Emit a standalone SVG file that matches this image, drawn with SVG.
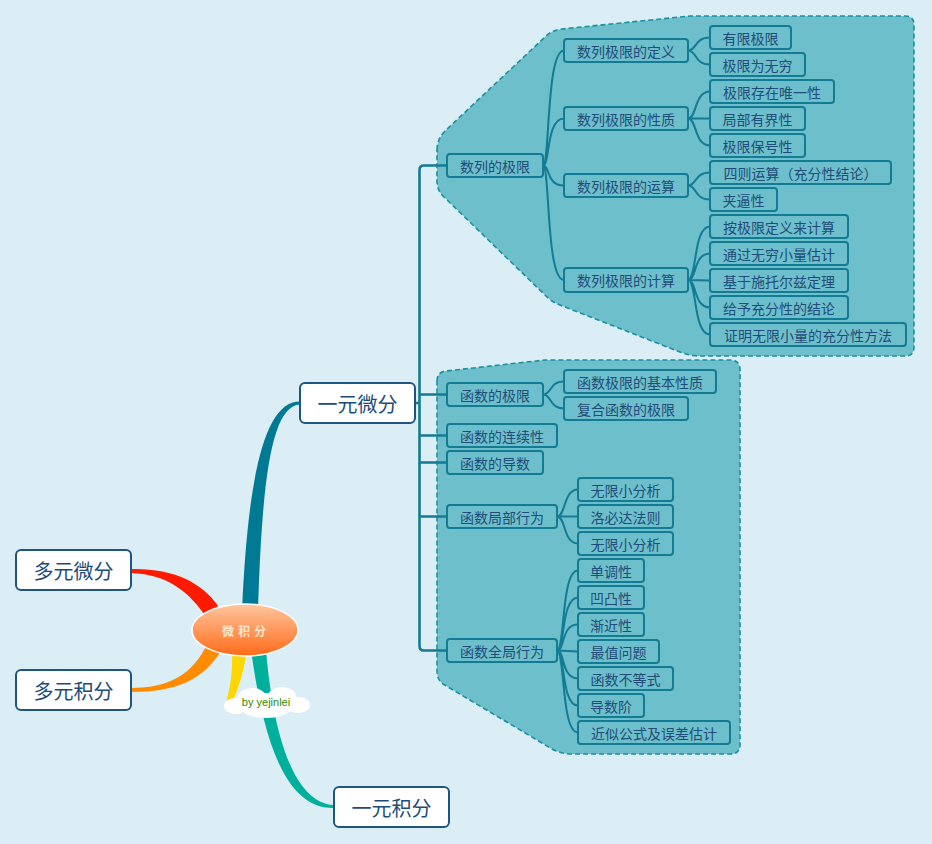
<svg xmlns="http://www.w3.org/2000/svg" width="932" height="844" viewBox="0 0 932 844">
<defs>
<linearGradient id="cg" x1="0" y1="0" x2="0" y2="1">
<stop offset="0" stop-color="#ffc6a0"/>
<stop offset="1" stop-color="#ff6a18"/>
</linearGradient>
<style>
.bnd{fill:#6dbfcb;stroke:#1a90a3;stroke-width:1.6;stroke-dasharray:5,3}
.top rect{fill:#ffffff;stroke:#1f5580;stroke-width:2}
.top text{font-family:"Noto Sans CJK SC","Liberation Sans",sans-serif;font-size:20px;fill:#1e4c78;text-anchor:middle;dominant-baseline:central}
.n rect{fill:#6dbfcb;stroke:#137b93;stroke-width:2}
.n text{font-family:"Noto Sans CJK SC","Liberation Sans",sans-serif;font-size:14px;fill:#1f4c78;text-anchor:middle;dominant-baseline:central}
.c{fill:none;stroke:#137b93;stroke-width:2}
.tr{fill:none;stroke:#137b93;stroke-width:2.6}
</style>
</defs>
<rect width="932" height="844" fill="#dbeef5"/>
<!-- boundaries -->
<path class="bnd" d="M437,150 Q437,139 445,131 L545,37 Q552,30 562,29 L690,16 L905,16 Q914,16 914,25 L914,347 Q914,356 905,356 L700,356 Q690,356 680,352 L560,305 Q552,302 546,296 L443,196 Q437,190 437,181 Z"/>
<path class="bnd" d="M437,381 Q437,372 446,371 L545,360 L730,360 Q740,360 740,370 L740,745 Q740,754 730,754 L572,754 Q561,754 552,749 L443,684 Q437,680 437,670 Z"/>
<!-- connectors -->
<g id="connectors">
<path fill="#007a94" d="M300,401.5 C266,401 248,470 242,612 L258,612 C262,475 272,406 300,404.5 Z"/>
<path fill="#ff1a00" d="M131,569 C172,568 202,582 218,606 L206,617 C190,593 168,574 131,573 Z"/>
<path fill="#ff8c00" d="M131,688 C170,688 194,673 207,644 L221,651 C203,680 176,692 131,692 Z"/>
<path fill="#ffd700" d="M232,650 L247,650 C243,675 238,690 231,705 L226,703 C230,688 233,672 232,650 Z"/>
<path fill="#00b09d" d="M251,650 L266,650 C272,722 290,803 334,805 L334,808 C281,809 262,728 251,650 Z"/>
<path class="tr" d="M447,165.5 L424,165.5 Q419.5,165.5 419.5,170 L419.5,646 Q419.5,650.5 424,650.5 L447,650.5"/>
<path class="tr" d="M415,403 L419.5,403 M419.5,394.5 L447,394.5 M419.5,435.5 L447,435.5 M419.5,462.5 L447,462.5 M419.5,516.5 L447,516.5"/>
<path class="c" d="M543,165.5 C550,165.5 546,50.5 564,50.5 M543,165.5 C550,165.5 546,118.5 564,118.5 M543,165.5 C550,165.5 546,185.5 564,185.5 M543,165.5 C550,165.5 546,280 564,280"/>
<path class="c" d="M688,50.5 C697,50.5 694,37.5 710,37.5 M688,50.5 C697,50.5 694,64.5 710,64.5"/>
<path class="c" d="M688,118.5 C697,118.5 694,91.5 710,91.5 M688,118.5 L710,118.5 M688,118.5 C697,118.5 694,145.5 710,145.5"/>
<path class="c" d="M688,185.5 C697,185.5 694,172.5 710,172.5 M688,185.5 C697,185.5 694,199.5 710,199.5"/>
<path class="c" d="M688,280 C697,280 693,226.5 710,226.5 M688,280 C697,280 693,253.5 710,253.5 M688,280 L710,280.5 M688,280 C697,280 693,307.5 710,307.5 M688,280 C697,280 693,334.5 710,334.5"/>
<path class="c" d="M543,394.5 C552,394.5 549,381.5 564,381.5 M543,394.5 C552,394.5 549,408.5 564,408.5"/>
<path class="c" d="M557,516.5 C566,516.5 563,489.5 578,489.5 M557,516.5 L578,516.5 M557,516.5 C566,516.5 563,543.5 578,543.5"/>
<path class="c" d="M557,650.5 C565,650.5 561,570.5 578,570.5 M557,650.5 C565,650.5 561,597.5 578,597.5 M557,650.5 C565,650.5 561,624.5 578,624.5 M557,650.5 L578,651.5 M557,650.5 C565,650.5 561,678.5 578,678.5 M557,650.5 C565,650.5 561,705.5 578,705.5 M557,650.5 C565,650.5 561,732.5 578,732.5"/>
</g>
<!-- central -->
<g id="center">
<ellipse cx="245" cy="630" rx="53" ry="26" fill="url(#cg)" stroke="#ffffff" stroke-width="1.5"/>
<text x="246" y="630" font-family="'Noto Sans CJK SC',sans-serif" font-size="12" font-weight="bold" fill="#fbe8cc" text-anchor="middle" dominant-baseline="central" letter-spacing="4">微积分</text>
</g>
<g id="cloud">
<g fill="#ffffff">
<ellipse cx="267" cy="704" rx="34" ry="11"/>
<ellipse cx="236" cy="706" rx="12" ry="8"/>
<ellipse cx="298" cy="705" rx="12" ry="8"/>
<ellipse cx="252" cy="697" rx="14" ry="9"/>
<ellipse cx="282" cy="696" rx="14" ry="9"/>
<ellipse cx="266" cy="711" rx="22" ry="7"/>
</g>
<text x="266" y="702" font-family="'Liberation Sans',sans-serif" font-size="11" fill="#2e8a00" text-anchor="middle" dominant-baseline="central">by yejinlei</text>
</g>
<!-- top nodes -->
<g id="n-duoyuanweifen" class="top"><rect x="16" y="550" width="115" height="40" rx="5"/><text x="73.5" y="570">多元微分</text></g>
<g id="n-duoyuanjifen" class="top"><rect x="16" y="670" width="115" height="40" rx="5"/><text x="73.5" y="690">多元积分</text></g>
<g id="n-yiyuanweifen" class="top"><rect x="300" y="383" width="115" height="40" rx="5"/><text x="357.5" y="403">一元微分</text></g>
<g id="n-yiyuanjifen" class="top"><rect x="334" y="787" width="115" height="40" rx="5"/><text x="391.5" y="807">一元积分</text></g>
<!-- level 1 -->
<g id="n-shulie" class="n"><rect x="447" y="154" width="96" height="23" rx="3"/><text x="495" y="165.5">数列的极限</text></g>
<g id="n-hanshujixian" class="n"><rect x="447" y="383" width="96" height="23" rx="3"/><text x="495" y="394.5">函数的极限</text></g>
<g id="n-lianxu" class="n"><rect x="447" y="424" width="110" height="23" rx="3"/><text x="502" y="435.5">函数的连续性</text></g>
<g id="n-daoshu" class="n"><rect x="447" y="451" width="96" height="23" rx="3"/><text x="495" y="462.5">函数的导数</text></g>
<g id="n-jubu" class="n"><rect x="447" y="505" width="110" height="23" rx="3"/><text x="502" y="516.5">函数局部行为</text></g>
<g id="n-quanju" class="n"><rect x="447" y="639" width="110" height="23" rx="3"/><text x="502" y="650.5">函数全局行为</text></g>
<!-- level 2 -->
<g id="n-dingyi" class="n"><rect x="564" y="39" width="124" height="23" rx="3"/><text x="626" y="50.5">数列极限的定义</text></g>
<g id="n-xingzhi" class="n"><rect x="564" y="107" width="124" height="23" rx="3"/><text x="626" y="118.5">数列极限的性质</text></g>
<g id="n-yunsuan" class="n"><rect x="564" y="174" width="124" height="23" rx="3"/><text x="626" y="185.5">数列极限的运算</text></g>
<g id="n-jisuan" class="n"><rect x="564" y="268" width="124" height="24" rx="3"/><text x="626" y="280">数列极限的计算</text></g>
<g id="n-jibenxingzhi" class="n"><rect x="564" y="370" width="152" height="23" rx="3"/><text x="640" y="381.5">函数极限的基本性质</text></g>
<g id="n-fuhe" class="n"><rect x="564" y="397" width="124" height="23" rx="3"/><text x="626" y="408.5">复合函数的极限</text></g>
<g id="n-wuxian1" class="n"><rect x="578" y="478" width="95" height="23" rx="3"/><text x="625.5" y="489.5">无限小分析</text></g>
<g id="n-luobida" class="n"><rect x="578" y="505" width="95" height="23" rx="3"/><text x="625.5" y="516.5">洛必达法则</text></g>
<g id="n-wuxian2" class="n"><rect x="578" y="532" width="95" height="23" rx="3"/><text x="625.5" y="543.5">无限小分析</text></g>
<g id="n-dandiao" class="n"><rect x="578" y="559" width="66" height="23" rx="3"/><text x="611" y="570.5">单调性</text></g>
<g id="n-aotu" class="n"><rect x="578" y="586" width="66" height="23" rx="3"/><text x="611" y="597.5">凹凸性</text></g>
<g id="n-jianjin" class="n"><rect x="578" y="613" width="66" height="23" rx="3"/><text x="611" y="624.5">渐近性</text></g>
<g id="n-zuizhi" class="n"><rect x="578" y="640" width="81" height="23" rx="3"/><text x="618.5" y="651.5">最值问题</text></g>
<g id="n-budengshi" class="n"><rect x="578" y="667" width="95" height="23" rx="3"/><text x="625.5" y="678.5">函数不等式</text></g>
<g id="n-daoshujie" class="n"><rect x="578" y="694" width="66" height="23" rx="3"/><text x="611" y="705.5">导数阶</text></g>
<g id="n-jinsi" class="n"><rect x="578" y="721" width="152" height="23" rx="3"/><text x="654" y="732.5">近似公式及误差估计</text></g>
<!-- level 3 -->
<g id="n-youxian" class="n"><rect x="710" y="26" width="81" height="23" rx="3"/><text x="750.5" y="37.5">有限极限</text></g>
<g id="n-wuqiong" class="n"><rect x="710" y="53" width="95" height="23" rx="3"/><text x="757.5" y="64.5">极限为无穷</text></g>
<g id="n-weiyi" class="n"><rect x="710" y="80" width="124" height="23" rx="3"/><text x="772" y="91.5">极限存在唯一性</text></g>
<g id="n-youjie" class="n"><rect x="710" y="107" width="95" height="23" rx="3"/><text x="757.5" y="118.5">局部有界性</text></g>
<g id="n-baohao" class="n"><rect x="710" y="134" width="95" height="23" rx="3"/><text x="757.5" y="145.5">极限保号性</text></g>
<g id="n-size" class="n"><rect x="710" y="161" width="181" height="23" rx="3"/><text x="800.5" y="172.5">四则运算（充分性结论）</text></g>
<g id="n-jiabi" class="n"><rect x="710" y="188" width="67" height="23" rx="3"/><text x="743.5" y="199.5">夹逼性</text></g>
<g id="n-andingyi" class="n"><rect x="710" y="215" width="138" height="23" rx="3"/><text x="779" y="226.5">按极限定义来计算</text></g>
<g id="n-wuqiongxiao" class="n"><rect x="710" y="242" width="138" height="23" rx="3"/><text x="779" y="253.5">通过无穷小量估计</text></g>
<g id="n-stolz" class="n"><rect x="710" y="269" width="138" height="23" rx="3"/><text x="779" y="280.5">基于施托尔兹定理</text></g>
<g id="n-jielun" class="n"><rect x="710" y="296" width="138" height="23" rx="3"/><text x="779" y="307.5">给予充分性的结论</text></g>
<g id="n-zhengming" class="n"><rect x="710" y="323" width="196" height="23" rx="3"/><text x="808" y="334.5">证明无限小量的充分性方法</text></g>
</svg>
